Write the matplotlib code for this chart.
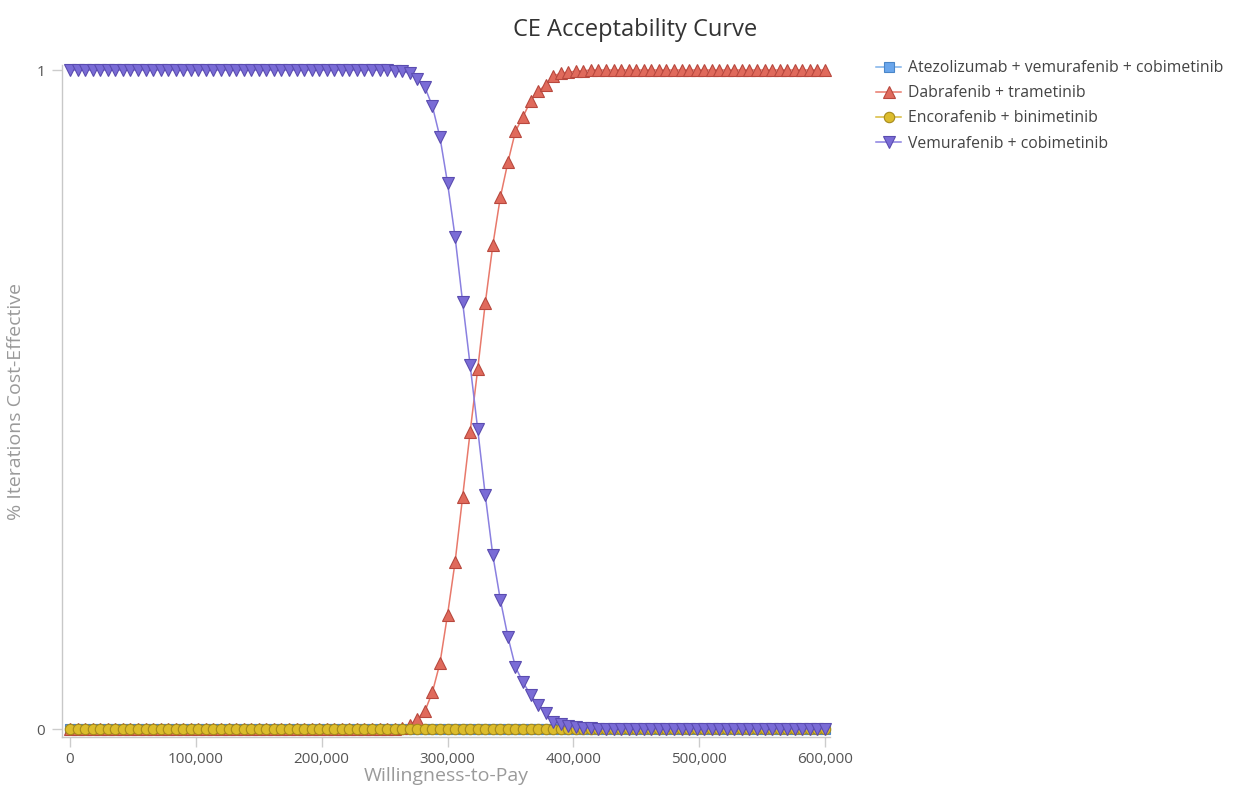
import matplotlib
matplotlib.use("Agg")
import matplotlib.pyplot as plt
import numpy as np

# ---- data ----
wtp_step = 6000
wtp = [i * wtp_step for i in range(101)]

series_names = [
    "Atezolizumab + vemurafenib + cobimetinib",
    "Dabrafenib + trametinib",
    "Encorafenib + binimetinib",
    "Vemurafenib + cobimetinib",
]

atezo = [0.0] * 101
encora = [0.0] * 101

# Dabrafenib + trametinib (index 44..69)
dabra_mid = [0.001, 0.006, 0.015, 0.027, 0.056, 0.100, 0.173, 0.253, 0.352, 0.451,
             0.546, 0.646, 0.734, 0.807, 0.860, 0.907, 0.929, 0.953, 0.968, 0.977,
             0.991, 0.995, 0.997, 0.998, 0.999, 1.0]
dabra = [0.0] * 44 + dabra_mid + [1.0] * (101 - 44 - len(dabra_mid))

# Vemurafenib + cobimetinib (index 42..69)
vemu_mid = [1.0, 0.999, 0.998, 0.995, 0.986, 0.974, 0.945, 0.898, 0.829, 0.747,
            0.648, 0.552, 0.455, 0.355, 0.264, 0.196, 0.140, 0.094, 0.071, 0.052,
            0.036, 0.024, 0.011, 0.007, 0.004, 0.003, 0.002, 0.001]
vemu = [1.0] * 42 + vemu_mid + [0.0] * (101 - 42 - len(vemu_mid))

x_ticks = [0, 100000, 200000, 300000, 400000, 500000, 600000]
x_tick_labels = ["0", "100,000", "200,000", "300,000", "400,000", "500,000", "600,000"]
y_ticks = [0, 1]
y_tick_labels = ["0", "1"]

# ---- style ----
plt.rcParams['font.family'] = ['Open Sans', 'DejaVu Sans']

fig = plt.figure(figsize=(12.55, 7.88), dpi=100)
ax = fig.add_axes([62/1255, 1 - 737/788, (830-62)/1255, (737-65)/788])

styles = [
    dict(marker='s', color='#7fb2ea', mfc='#6aa6ec', mec='#4a86c8', ms=7.5),
    dict(marker='^', color='#e8796b', mfc='#e06a5c', mec='#b8483e', ms=8.5),
    dict(marker='o', color='#d8bb3a', mfc='#dcbc2c', mec='#a68a1c', ms=7.5),
    dict(marker='v', color='#8a80e0', mfc='#7a6cd6', mec='#5a4cb0', ms=8.5),
]
data = [atezo, dabra, encora, vemu]
handles = []
for name, vals, st in zip(series_names, data, styles):
    h, = ax.plot(wtp, vals, linestyle='-', linewidth=1.1, color=st['color'],
                 marker=st['marker'], markersize=st['ms'], markerfacecolor=st['mfc'],
                 markeredgecolor=st['mec'], markeredgewidth=0.8, label=name,
                 clip_on=False)
    handles.append(h)

ax.set_xlim(-6366, 603979)
ax.set_ylim(-0.0121, 1.0076)

ax.set_xticks(x_ticks)
ax.set_xticklabels(x_tick_labels)
ax.set_yticks(y_ticks)
ax.set_yticklabels(y_tick_labels)
ax.tick_params(axis='x', colors='#cccccc', labelcolor='#555555', labelsize=11,
               length=7, width=1, direction='out', pad=4)
ax.tick_params(axis='y', colors='#cccccc', labelcolor='#555555', labelsize=11,
               length=7, width=1, direction='out', pad=5)

for s in ['top', 'right']:
    ax.spines[s].set_visible(False)
for s in ['left', 'bottom']:
    ax.spines[s].set_color('#c8c8c8')
    ax.spines[s].set_linewidth(1)

ax.set_xlabel("Willingness-to-Pay", color='#9a9a9a', fontsize=14, labelpad=0)
ax.set_ylabel("% Iterations Cost-Effective", color='#9a9a9a', fontsize=14, labelpad=8)

fig.text(635/1255, 1 - 30/788, "CE Acceptability Curve", ha='center', va='center',
         fontsize=17, color='#333333')

fig.legend(handles=handles, loc='upper left', bbox_to_anchor=(870/1255, 1 - 54/788),
           frameon=False, fontsize=11.3, labelcolor='#444444', handlelength=1.6,
           handletextpad=0.4, labelspacing=0.58, borderaxespad=0)

fig.savefig("out.png", dpi=100, facecolor='white')
